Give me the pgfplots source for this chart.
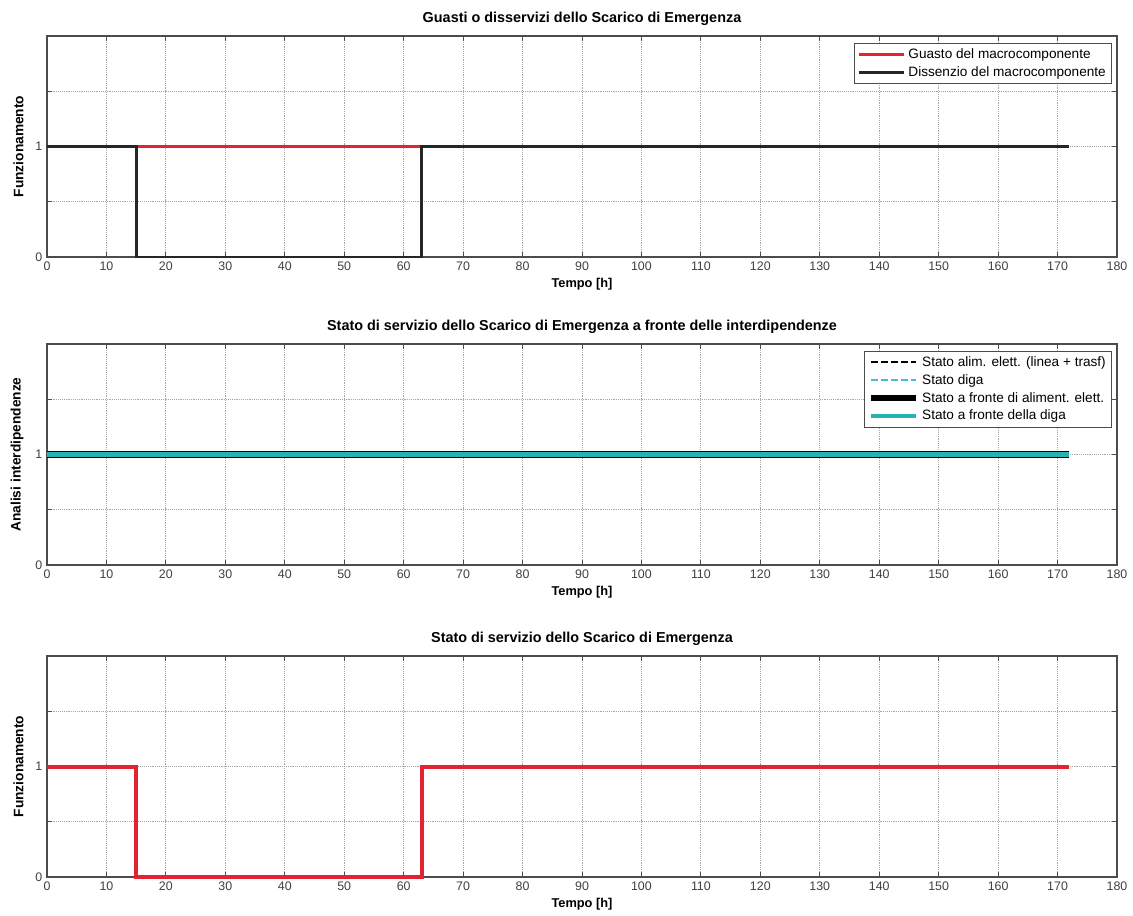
\documentclass[border=0pt]{standalone}
\usepackage{fontspec}
\setmainfont{Liberation Sans}
\usepackage{pgfplots}
\pgfplotsset{compat=1.18}

\definecolor{mred}{RGB}{225,35,50}
\definecolor{mcyan}{RGB}{40,178,182}
\definecolor{mcyanl}{RGB}{70,185,220}

\pgfplotsset{mstyle/.style={
  scale only axis, width=802.5pt, height=165.75pt,
  xmin=0, xmax=180, ymin=0, ymax=2,
  xtick={0,10,...,180}, ytick={0,0.5,1,1.5}, yticklabels={0,,1,},
  xtick pos=both, ytick pos=both,
  xticklabel pos=bottom, yticklabel pos=left,
  grid=major, grid style={densely dotted, black!35, line width=0.6pt},
  tick align=inside, major tick length=4pt,
  axis line style={line width=1pt, black!70},
  every tick/.style={black!70, line width=0.7pt},
  ticklabel style={font=\fontsize{9.3}{10}\selectfont, text=black!75},
  /pgf/number format/assume math mode=true,
  title style={font=\bfseries\fontsize{10.8}{12}\selectfont, yshift=-2pt},
  xlabel={Tempo [h]},
  xlabel style={font=\bfseries\fontsize{9.6}{11}\selectfont, yshift=1pt},
  ylabel style={font=\bfseries\fontsize{10.3}{12}\selectfont, yshift=2pt},
  legend style={font=\fontsize{10.2}{12}\selectfont, at={(0.995,0.97)}, anchor=north east,
    draw=black!70, line width=0.8pt, inner sep=2pt, row sep=0.5pt},
  legend cell align=left,
  legend image code/.code={\draw[#1] (0pt,0pt) -- (34pt,0pt);},
  clip=false,
}}

\begin{document}
\begin{tikzpicture}
\begin{axis}[mstyle, at={(0,0)}, anchor=north west,
  title={Guasti o disservizi dello Scarico di Emergenza},
  ylabel={Funzionamento}]
\addplot[mred, line width=2.3pt] coordinates {(0,1) (172,1)};
\addlegendentry{Guasto del macrocomponente}
\addplot[black!85, line width=2.1pt] coordinates {(0,1) (15,1) (15,0) (63,0) (63,1) (172,1)};
\addlegendentry{Dissenzio del macrocomponente}
\end{axis}

\begin{axis}[mstyle, at={(0,-231pt)}, anchor=north west,
  title={Stato di servizio dello Scarico di Emergenza  a fronte delle interdipendenze},
  ylabel={Analisi interdipendenze}]
\addplot[black, dash pattern=on 5pt off 2.5pt, line width=1.6pt] coordinates {(0,1) (172,1)};
\addlegendentry{Stato alim. elett. (linea + trasf)}
\addplot[mcyanl, dash pattern=on 5pt off 2.5pt, line width=1.6pt] coordinates {(0,1) (172,1)};
\addlegendentry{Stato diga}
\addplot[black, line width=5pt] coordinates {(0,1) (172,1)};
\addlegendentry{Stato a fronte di aliment. elett.}
\addplot[mcyan, line width=3.2pt] coordinates {(0,1) (172,1)};
\addlegendentry{Stato a fronte della diga}
\end{axis}

\begin{axis}[mstyle, at={(0,-465pt)}, anchor=north west,
  title={Stato di servizio dello Scarico di Emergenza},
  ylabel={Funzionamento}]
\addplot[mred, line width=3pt] coordinates {(0,1) (15,1) (15,0) (63,0) (63,1) (172,1)};
\end{axis}

\pgfresetboundingbox
\path[use as bounding box] (-35.25pt,27pt) rectangle (814.5pt,-659.25pt);
\end{tikzpicture}
\end{document}
